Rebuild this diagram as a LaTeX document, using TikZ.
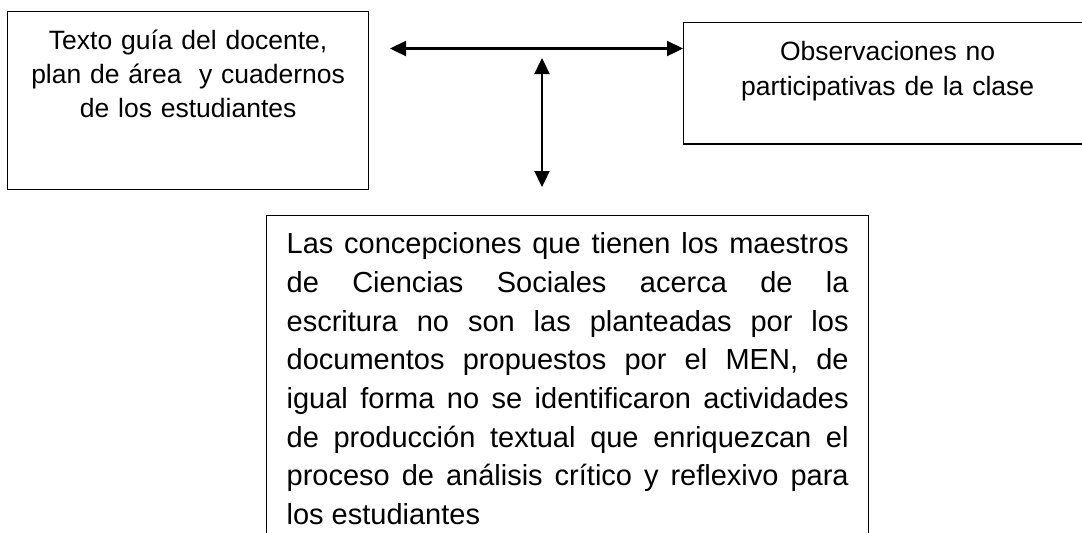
\documentclass[tikz,border=0pt]{standalone}
\usepackage{fontspec}
\setmainfont{Liberation Sans}
\usetikzlibrary{arrows.meta}

\begin{document}
\begin{tikzpicture}[x=0.5pt,y=-0.5pt,>={Triangle[length=8pt,width=7.5pt]},
    box/.style={draw, line width=0.65pt, anchor=north west},
    small/.style={font=\fontsize{13.25pt}{17.2pt}\selectfont},
    big/.style={font=\fontsize{14.5pt}{19.35pt}\selectfont},
    dbl/.style={<->, line width=1.15pt}]
  \clip (0,0) rectangle (1082,532);
  %
  \node[box, small, inner xsep=5pt, inner ysep=9pt, text width=170.5pt,
        align=center, text depth=61pt] (guia) at (7,11)
        {Texto guía del docente,\\ plan de área\ \ y cuadernos\\ de los estudiantes};
  \node[box, small, inner xsep=5pt, inner ysep=9.5pt, text width=194pt,
        align=center, text depth=32pt] (obs) at (683,22)
        {Observaciones no\\ participativas de la clase};
  \node[box, big, inner xsep=10pt, inner ysep=8.5pt, text width=281pt,
        align=justify] (concl) at (266,215)
        {Las concepciones que tienen los maestros\linebreak
         de Ciencias Sociales acerca de la\linebreak
         escritura no son las planteadas por los\linebreak
         documentos propuestos por el MEN, de\linebreak
         igual forma no se identificaron actividades\linebreak
         de producción textual que enriquezcan el\linebreak
         proceso de análisis crítico y reflexivo para\linebreak
         los estudiantes};
  %
  \coordinate (h_left) at (390,48.5);
  \coordinate (h_right) at (683,48.5);
  \coordinate (v_top) at (542,58);
  \coordinate (v_bot) at (542,187);
  %
  \draw[dbl] (h_left) -- (h_right);
  \draw[dbl] (v_top) -- (v_bot);
\end{tikzpicture}
\end{document}
